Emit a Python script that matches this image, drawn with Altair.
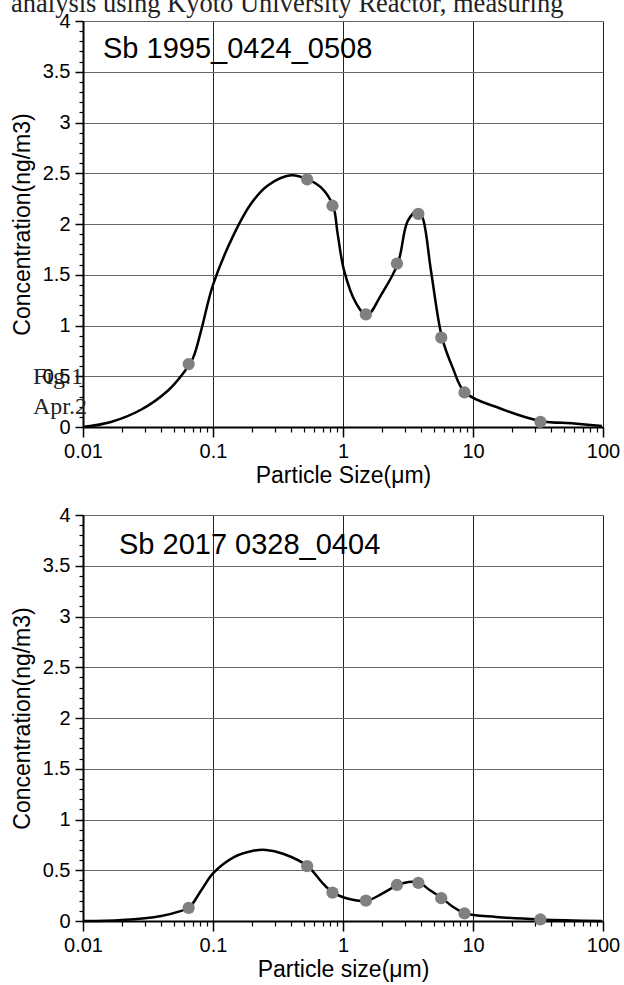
import altair as alt
import pandas as pd

# ---------------- data ----------------
# Panel 1: Sb 1995_0424_0508
size_1 = [0.065, 0.53, 0.83, 1.5, 2.6, 3.8, 5.7, 8.6, 33]
conc_1 = [0.62, 2.44, 2.18, 1.11, 1.61, 2.10, 0.88, 0.34, 0.05]
curve_x_1 = [0.01, 0.0164, 0.0279, 0.0451, 0.0598, 0.0702, 0.081, 0.1, 0.145, 0.196,
             0.264, 0.398, 0.535, 0.677, 0.838, 0.91, 1.02, 1.26, 1.53, 1.96, 2.64,
             3.15, 3.75, 4.1, 4.75, 5.78, 7.0, 8.68, 16.4, 33, 60, 98]
curve_y_1 = [0.0, 0.05, 0.17, 0.36, 0.54, 0.68, 0.95, 1.4, 1.9, 2.2,
             2.38, 2.48, 2.44, 2.36, 2.18, 1.9, 1.54, 1.22, 1.1, 1.3, 1.61,
             2.03, 2.13, 2.06, 1.54, 0.88, 0.58, 0.34, 0.18, 0.06, 0.035, 0.01]

# Panel 2: Sb 2017 0328_0404
size_2 = [0.065, 0.53, 0.83, 1.5, 2.6, 3.8, 5.7, 8.6, 33]
conc_2 = [0.13, 0.54, 0.28, 0.20, 0.355, 0.375, 0.225, 0.075, 0.015]
curve_x_2 = [0.01, 0.02, 0.04, 0.057, 0.0654, 0.081, 0.1, 0.145, 0.2, 0.256, 0.35,
             0.535, 0.7, 0.838, 1.1, 1.53, 2.0, 2.64, 3.2, 3.86, 4.7, 5.78, 7.0,
             8.68, 15, 33, 98]
curve_y_2 = [0.0, 0.01, 0.05, 0.10, 0.13, 0.3, 0.47, 0.63, 0.69, 0.70, 0.66,
             0.54, 0.37, 0.28, 0.22, 0.2, 0.27, 0.355, 0.385, 0.375, 0.3, 0.225, 0.14,
             0.075, 0.04, 0.015, 0.0]

titles = ["Sb 1995_0424_0508", "Sb 2017 0328_0404"]
x_titles = ["Particle Size(μm)", "Particle size(μm)"]
y_title = "Concentration(ng/m3)"

x_major = [0.01, 0.1, 1, 10, 100]
x_minor = [0.02, 0.03, 0.04, 0.05, 0.06, 0.07, 0.08, 0.09,
           0.2, 0.3, 0.4, 0.5, 0.6, 0.7, 0.8, 0.9,
           2, 3, 4, 5, 6, 7, 8, 9,
           20, 30, 40, 50, 60, 70, 80, 90]
y_major = [0, 0.5, 1, 1.5, 2, 2.5, 3, 3.5, 4]
y_minor = [0.1, 0.2, 0.3, 0.4, 0.6, 0.7, 0.8, 0.9, 1.1, 1.2, 1.3, 1.4,
           1.6, 1.7, 1.8, 1.9, 2.1, 2.2, 2.3, 2.4, 2.6, 2.7, 2.8, 2.9,
           3.1, 3.2, 3.3, 3.4, 3.6, 3.7, 3.8, 3.9]

# background page text (document behind the charts)
doc_top = "analysis using Kyoto University Reactor, measuring"
doc_fig = "Fig.1"
doc_apr = "Apr.2"

W, H = 520, 406
FONT = "Liberation Sans"


def panel(sizes, concs, cx, cy, title, xtitle, title_x, title_y, extra=None):
    xs = alt.Scale(type="log", domain=[0.01, 100], nice=False)
    ys = alt.Scale(domain=[0, 4], nice=False, zero=False)
    curve_df = pd.DataFrame({"size": cx, "conc": cy})
    pts_df = pd.DataFrame({"size": sizes, "conc": concs})

    line = alt.Chart(curve_df).mark_line(
        color="black", strokeWidth=2.5, interpolate="catmull-rom"
    ).encode(
        x=alt.X("size:Q", scale=xs, axis=alt.Axis(
            orient="bottom", values=x_major, format="~g", title=xtitle,
            grid=True, gridColor="#222", gridWidth=1,
            tickSize=10, tickWidth=1.5, tickColor="black",
            domainColor="black", domainWidth=2,
            labelFontSize=20, labelPadding=4, labelColor="black",
            labelFlush=False, labelOverlap=False,
            titleFontSize=23, titleFontWeight="normal", titlePadding=3,
            titleColor="black", labelFont=FONT, titleFont=FONT)),
        y=alt.Y("conc:Q", scale=ys, axis=alt.Axis(
            orient="left", values=y_major, format=".1~f", title=y_title,
            grid=True, gridColor="#666", gridWidth=1.2,
            tickSize=8, tickWidth=1.5, tickColor="black",
            domainColor="black", domainWidth=2,
            labelFontSize=20, labelPadding=5, labelColor="black",
            labelFlush=False, labelOverlap=False,
            titleFontSize=23, titleFontWeight="normal", titlePadding=8,
            titleColor="black", labelFont=FONT, titleFont=FONT)),
    )

    pts = alt.Chart(pts_df).mark_circle(
        color="#808080", size=150, opacity=1
    ).encode(
        x=alt.X("size:Q", scale=xs, axis=alt.Axis(
            orient="bottom", values=x_minor, labels=False, domain=False,
            grid=False, tickSize=5, tickWidth=1.2, tickColor="black", title=None)),
        y=alt.Y("conc:Q", scale=ys, axis=alt.Axis(
            orient="left", values=y_minor, labels=False, domain=False,
            grid=False, tickSize=4, tickWidth=1.2, tickColor="black", title=None)),
    )

    label = alt.Chart(pd.DataFrame({"t": [title]})).mark_text(
        align="left", baseline="alphabetic", fontSize=29, font=FONT, color="black"
    ).encode(x=alt.value(title_x), y=alt.value(title_y), text="t:N")

    layers = [line, pts, label]
    if extra:
        layers += extra
    return alt.layer(*layers).resolve_axis(x="independent", y="independent").properties(
        width=W, height=H)


def doc_text(t, x, y, size):
    return alt.Chart(pd.DataFrame({"t": [t]})).mark_text(
        align="left", baseline="alphabetic", fontSize=size,
        font="Liberation Serif", color="#222"
    ).encode(x=alt.value(x), y=alt.value(y), text="t:N")


extra_top = [
    doc_text(doc_top, -72, -9, 26.5),
    doc_text(doc_fig, -50, 363, 24),
    doc_text(doc_apr, -50, 393, 24),
]

top = panel(size_1, conc_1, curve_x_1, curve_y_1, titles[0], x_titles[0], 20, 37, extra_top)
bottom = panel(size_2, conc_2, curve_x_2, curve_y_2, titles[1], x_titles[1], 36, 39)

chart = alt.vconcat(top, bottom, spacing=88, bounds="flush").properties(
    padding={"left": 10, "top": -10, "right": 0, "bottom": 0},
    background="white",
).configure_view(stroke="black", strokeWidth=2).configure(font=FONT)

chart.save("out.html", embed_options={"renderer": "svg", "actions": False})
